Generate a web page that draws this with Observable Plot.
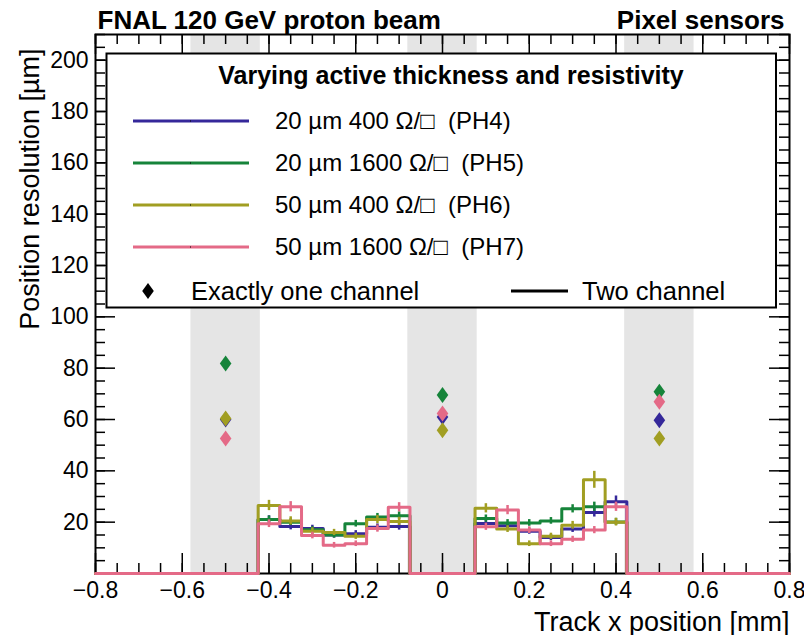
<!DOCTYPE html>
<html>
<head>
<meta charset="utf-8">
<script src="https://cdn.jsdelivr.net/npm/d3@7"></script>
<script src="https://cdn.jsdelivr.net/npm/@observablehq/plot@0.6"></script>
<style>
  html, body { margin: 0; padding: 0; background: white; }
  #chart { width: 804px; height: 635px; }
</style>
</head>
<body>
<div id="chart"></div>
<script>
// ---------- data ----------
const seriesNames = ["20 µm 400 Ω/□  (PH4)", "20 µm 1600 Ω/□  (PH5)", "50 µm 400 Ω/□  (PH6)", "50 µm 1600 Ω/□  (PH7)"];
const seriesColors = ["#35289a", "#16843a", "#a19e22", "#e46a87"];

// bin centres (bin width 0.05 mm)
const leftCenters = [-0.4, -0.35, -0.3, -0.25, -0.2, -0.15, -0.1];
const rightCenters = [0.1, 0.15, 0.2, 0.25, 0.3, 0.35, 0.4];

// two-channel resolution (µm), per series, left and right regions
const ph4Left = [21, 18.3, 17.5, 15, 15.5, 18, 18.3];
const ph4Right = [19.5, 18.6, 16.5, 14, 17.3, 23.8, 28];
const ph5Left = [21, 20, 17, 15, 19.4, 22, 22.5];
const ph5Right = [21.4, 19.7, 19.7, 20.5, 25.2, 26, 20.1];
const ph6Left = [26.5, 20.5, 16.5, 16, 14.5, 21, 20.3];
const ph6Right = [25.4, 17.3, 11.6, 14.5, 18.8, 36.5, 20];
const ph7Left = [19.4, 26, 14.8, 11, 11.6, 17.5, 25.8];
const ph7Right = [18.2, 24.7, 16.9, 11.6, 13.3, 16.9, 26];

// statistical errors (µm)
const ph4Err = [1.5, 1.3, 1.3, 1.2, 1.2, 1.3, 1.4, 1.4, 1.3, 1.2, 1.2, 1.3, 1.8, 2.2];
const ph5Err = [1.4, 1.3, 1.2, 1.2, 1.3, 1.4, 1.5, 1.4, 1.3, 1.3, 1.3, 1.6, 1.8, 1.4];
const ph6Err = [2, 1.6, 1.3, 1.2, 1.2, 1.6, 1.6, 1.8, 1.3, 1.1, 1.2, 1.5, 3.3, 1.5];
const ph7Err = [1.5, 2, 1.3, 1.1, 1.1, 1.4, 1.8, 1.4, 1.8, 1.3, 1.1, 1.2, 1.4, 1.8];

// exactly-one-channel resolution (µm) at strip centres
const diamondX = [-0.5, 0, 0.5];
const ph4One = [60, 61, 59.7];
const ph5One = [81.8, 69.5, 70.8];
const ph6One = [60.4, 55.8, 52.6];
const ph7One = [52.6, 62.3, 66.9];

// metal (shaded) regions
const bandStart = [-0.58, -0.08, 0.42];
const bandEnd = [-0.42, 0.08, 0.58];

// axis ticks
const xTicks = [-0.8, -0.6, -0.4, -0.2, 0, 0.2, 0.4, 0.6, 0.8];
const xMinorTicks = d3.range(-16, 17).map(i => i * 0.05);
const yTicks = [20, 40, 60, 80, 100, 120, 140, 160, 180, 200];
const yMinorTicks = d3.range(0, 43).map(i => i * 5);

// ---------- build tables ----------
const half = 0.025;
const lefts = [ph4Left, ph5Left, ph6Left, ph7Left];
const rights = [ph4Right, ph5Right, ph6Right, ph7Right];
const errs = [ph4Err, ph5Err, ph6Err, ph7Err];
const ones = [ph4One, ph5One, ph6One, ph7One];

const steps = [];
const errBars = [];
const diamonds = [];
seriesNames.forEach((name, s) => {
  const pts = [{x: -0.8, y: 0}];
  leftCenters.forEach((c, i) => pts.push({x: c - half, y: lefts[s][i]}));
  pts.push({x: leftCenters[leftCenters.length - 1] + half, y: 0});
  rightCenters.forEach((c, i) => pts.push({x: c - half, y: rights[s][i]}));
  pts.push({x: rightCenters[rightCenters.length - 1] + half, y: 0});
  pts.push({x: 0.8, y: 0});
  pts.forEach(p => steps.push({...p, s}));
  const centers = leftCenters.concat(rightCenters);
  const vals = lefts[s].concat(rights[s]);
  centers.forEach((c, i) => errBars.push({x: c, y1: vals[i] - errs[s][i], y2: vals[i] + errs[s][i], s}));
  diamondX.forEach((x, i) => diamonds.push({x, y: ones[s][i], s}));
});
const bands = bandStart.map((a, i) => ({x1: a, x2: bandEnd[i]}));

// ROOT-like diamond marker (wider than d3.symbolDiamond)
const rootDiamond = {
  draw(ctx, size) {
    const h = 8, w = 5.8;
    ctx.moveTo(0, -h); ctx.lineTo(w, 0); ctx.lineTo(0, h); ctx.lineTo(-w, 0); ctx.closePath();
  }
};

// ---------- plot ----------
const W = 804, H = 635;
const mL = 95, mR = 15, mT = 34, mB = 62;
const fw = W - mL - mR, fh = H - mT - mB;
const font = "'Liberation Sans', Arial, Helvetica, sans-serif";

const marks = [
  Plot.rect(bands, {x1: "x1", x2: "x2", fill: "#e5e5e5"}),
  // ticks inward on all four sides
  Plot.tickX(xMinorTicks, {x: d => d, insetTop: fh - 10, stroke: "black", strokeWidth: 1.5}),
  Plot.tickX(xMinorTicks, {x: d => d, insetBottom: fh - 10, stroke: "black", strokeWidth: 1.5}),
  Plot.tickX(xTicks, {x: d => d, insetTop: fh - 20, stroke: "black", strokeWidth: 1.5}),
  Plot.tickX(xTicks, {x: d => d, insetBottom: fh - 20, stroke: "black", strokeWidth: 1.5}),
  Plot.tickY(yMinorTicks, {y: d => d, insetRight: fw - 10, stroke: "black", strokeWidth: 1.5}),
  Plot.tickY(yMinorTicks, {y: d => d, insetLeft: fw - 10, stroke: "black", strokeWidth: 1.5}),
  Plot.tickY([0, ...yTicks], {y: d => d, insetRight: fw - 20, stroke: "black", strokeWidth: 1.5}),
  Plot.tickY([0, ...yTicks], {y: d => d, insetLeft: fw - 20, stroke: "black", strokeWidth: 1.5}),
  Plot.frame({stroke: "black", strokeWidth: 2}),
];
// series drawn in order so the last one is on top
seriesNames.forEach((n, s) => {
  marks.push(Plot.line(steps.filter(d => d.s === s), {x: "x", y: "y", curve: "step-after", stroke: seriesColors[s], strokeWidth: 3}));
  marks.push(Plot.ruleX(errBars.filter(d => d.s === s), {x: "x", y1: "y1", y2: "y2", stroke: seriesColors[s], strokeWidth: 2.5}));
});
seriesNames.forEach((n, s) => {
  marks.push(Plot.dot(diamonds.filter(d => d.s === s), {x: "x", y: "y", symbol: rootDiamond, r: 5, fill: seriesColors[s], stroke: "none"}));
});
marks.push(
  Plot.axisX(xTicks, {anchor: "bottom", tickSize: 0, tickPadding: 8, fontSize: 23,
    tickFormat: d => (d < 0 ? "\u2212" : "") + Math.abs(d)}),
  Plot.axisY(yTicks, {anchor: "left", tickSize: 0, tickPadding: 7, fontSize: 23}),
  Plot.text(["Track x position [mm]"], {text: d => d, frameAnchor: "bottom-right", textAnchor: "end", dy: 57, fontSize: 27}),
  Plot.text(["Position resolution [µm]"], {text: d => d, frameAnchor: "top-left", textAnchor: "end", rotate: -90, dx: -76, dy: 14, fontSize: 27}),
  Plot.text(["FNAL 120 GeV proton beam"], {text: d => d, frameAnchor: "top-left", textAnchor: "start", dx: 2, dy: -24, fontSize: 26, fontWeight: "bold"}),
  Plot.text(["Pixel sensors"], {text: d => d, frameAnchor: "top-right", textAnchor: "end", dx: -5, dy: -24, fontSize: 26, fontWeight: "bold"})
);

const plot = Plot.plot({
  width: W, height: H,
  marginLeft: mL, marginRight: mR, marginTop: mT, marginBottom: mB,
  x: {domain: [-0.8, 0.8], axis: null},
  y: {domain: [0, 210], axis: null},
  style: {fontFamily: font, fontSize: "23px", background: "white", color: "black"},
  marks
});

// ---------- legend (inside the frame) ----------
const svg = d3.select(plot);
const lg = svg.append("g").attr("font-family", font).attr("text-anchor", "start");
lg.append("rect").attr("x", 106.5).attr("y", 53.5).attr("width", 669.5).attr("height", 254)
  .attr("fill", "white").attr("stroke", "black").attr("stroke-width", 2);
lg.append("text").attr("x", 451).attr("y", 75).attr("dy", "0.35em").attr("text-anchor", "middle")
  .attr("font-size", 25).attr("font-weight", "bold").text("Varying active thickness and resistivity");
seriesNames.forEach((name, s) => {
  const y = 121 + s * 42;
  lg.append("line").attr("x1", 133).attr("x2", 249).attr("y1", y).attr("y2", y)
    .attr("stroke", seriesColors[s]).attr("stroke-width", 3);
  lg.append("rect").attr("x", 190).attr("y", y - 0.5).attr("width", 1).attr("height", 1).attr("fill", "black");
  lg.append("text").attr("x", 275).attr("y", y).attr("dy", "0.35em").attr("text-anchor", "start").attr("font-size", 24).text(name);
});
const yOne = 291;
lg.append("path").attr("transform", `translate(148,${yOne})`)
  .attr("d", d3.symbol(rootDiamond, 1)()).attr("fill", "black");
lg.append("text").attr("x", 191).attr("y", yOne).attr("dy", "0.35em").attr("text-anchor", "start").attr("font-size", 25.5).text("Exactly one channel");
lg.append("line").attr("x1", 511).attr("x2", 568).attr("y1", yOne).attr("y2", yOne).attr("stroke", "black").attr("stroke-width", 3);
lg.append("text").attr("x", 582).attr("y", yOne).attr("dy", "0.35em").attr("text-anchor", "start").attr("font-size", 25.5).text("Two channel");

document.getElementById("chart").appendChild(plot);
</script>
</body>
</html>
